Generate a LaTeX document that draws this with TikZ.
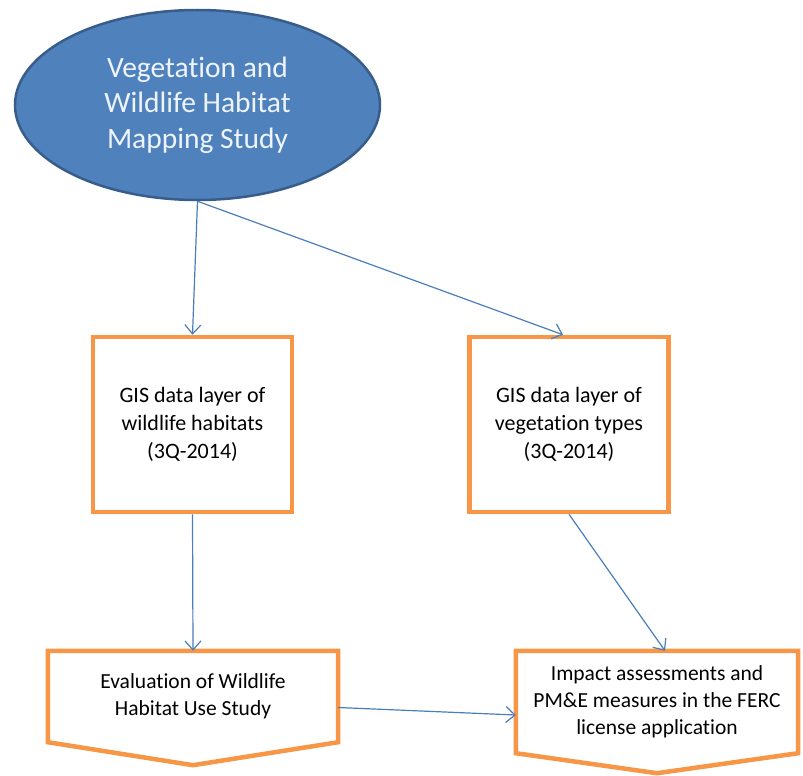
\documentclass[tikz,border=0pt]{standalone}
\usepackage{fontspec}
\setmainfont{Carlito}[Ligatures=NoCommon]
\usetikzlibrary{shapes.geometric,arrows.meta}
\definecolor{ovalblue}{HTML}{4F81BD}
\definecolor{ovalline}{HTML}{385D8A}
\definecolor{ovaltext}{HTML}{EEF4FC}
\definecolor{boxorange}{HTML}{F79646}
\definecolor{arrowblue}{HTML}{4A7EBB}

\begin{document}
\begin{tikzpicture}[x=1pt,y=-1pt,
        oval/.style={ellipse,fill=ovalblue,draw=ovalline,line width=2.5pt,minimum width=365pt,minimum height=190pt,inner sep=0pt,text=ovaltext,align=center,font=\fontsize{29.5}{35.5}\selectfont},
        gisbox/.style={draw=boxorange,line width=4.5pt,minimum width=199pt,minimum height=175pt,align=center,font=\fontsize{22}{28}\selectfont},
        pagebox/.style={align=center,inner sep=0pt,font=\fontsize{21.5}{27}\selectfont},
        pageline/.style={draw=boxorange,line width=4.5pt},
        edge/.style={draw=arrowblue,line width=1.2pt,-{Straight Barb[length=9pt,width=16pt]}}]
        \useasboundingbox (0,0) rectangle (803,776);
        \node[oval](m) at (197.5,105) {Vegetation and\\Wildlife Habitat\\Mapping Study};
        \node[gisbox](h) at (192.5,424.5) {GIS data layer of\\wildlife habitats\\(3Q-2014)};
        \node[gisbox](v) at (569,424.5) {GIS data layer of\\vegetation types\\(3Q-2014)};
        \node[pagebox,minimum width=290pt,minimum height=91pt](w) at (193,696.5) {Evaluation of Wildlife\\Habitat Use Study};
        \node[pagebox,minimum width=282pt,minimum height=102pt](i) at (657,702) {Impact assessments and\\PM\&E measures in the FERC\\license application};
        \draw[pageline] (w.north west) -- (w.north east) -- (w.south east) -- ([yshift=-23pt]w.south) -- (w.south west) -- cycle;
        \draw[pageline] (i.north west) -- (i.north east) -- (i.south east) -- ([yshift=-20pt]i.south) -- (i.south west) -- cycle;
        \draw[edge](m.south)--(h.north);
        \draw[edge](m.south)--([xshift=-6pt]v.north);
        \draw[edge](h.south)--(w.north);
        \draw[edge](v.south)--([xshift=8pt]i.north);
        \draw[edge]([yshift=-11pt]w.east)--([yshift=-13pt]i.west);
        \end{tikzpicture}
\end{document}
